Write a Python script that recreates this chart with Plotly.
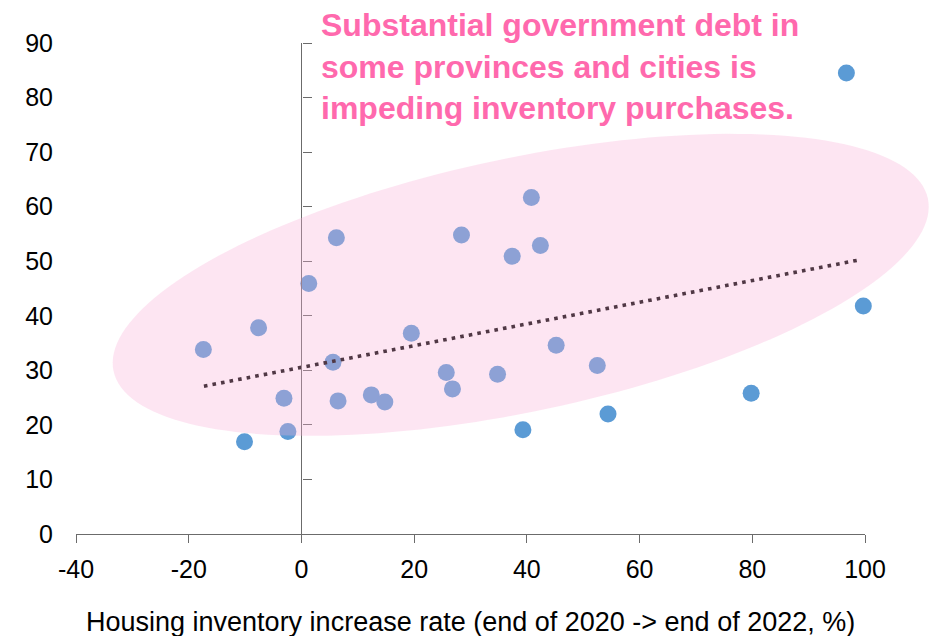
import numpy as np
import plotly.graph_objects as go

# ---- data ----
inventory_growth = [-17.4, -10.1, -7.6, -3.1, -2.4, 1.3, 6.2, 5.6, 6.5, 12.4,
                    14.8, 19.5, 25.7, 26.8, 28.4, 34.8, 37.4, 39.3, 40.8, 42.4,
                    45.2, 52.5, 54.4, 79.8, 96.7, 99.7]
debt_ratio = [33.8, 16.9, 37.8, 24.9, 18.8, 45.9, 54.3, 31.5, 24.4, 25.5,
              24.2, 36.8, 29.6, 26.6, 54.8, 29.3, 50.9, 19.1, 61.7, 52.9,
              34.6, 30.9, 22.0, 25.8, 84.5, 41.8]
trend_x = [-17.3, 99.3]
trend_y = [27.1, 50.3]
x_ticks = [-40, -20, 0, 20, 40, 60, 80, 100]
x_tick_labels = ["-40", "-20", "0", "20", "40", "60", "80", "100"]
y_ticks = [0, 10, 20, 30, 40, 50, 60, 70, 80, 90]
x_title = "Housing inventory increase rate (end of 2020 -> end of 2022, %)"
note = "Substantial government debt in<br>some provinces and cities is<br>impeding inventory purchases."

# ---- layout constants ----
W, H = 937, 636
ML, MR, MT, MB = 76, 72, 43, 102
PW, PH = W - ML - MR, H - MT - MB
FONT = "Liberation Sans, Arial, sans-serif"
AXIS_COLOR = "#6b6b6b"
x_range = [x_ticks[0], x_ticks[-1]]
y_range = [y_ticks[0], y_ticks[-1]]

fig = go.Figure()
fig.add_trace(go.Scatter(
    x=inventory_growth, y=debt_ratio, mode="markers",
    marker=dict(size=17, color="#5B9BD5", line=dict(width=0)),
    cliponaxis=False, showlegend=False, hoverinfo="x+y"))
fig.add_trace(go.Scatter(
    x=trend_x, y=trend_y, mode="lines", yaxis="y2",
    line=dict(color="#000000", width=3.6, dash="3.6px,5.1px"),
    showlegend=False, hoverinfo="skip"))

# highlight ellipse (pixel geometry -> paper coords)
cx, cy, ea, eb, th = 520.7, 284.85, 416.2, 126.7, np.deg2rad(11.96)
t = np.linspace(0, 2 * np.pi, 181)
px = cx + ea * np.cos(th) * np.cos(t) - eb * np.sin(th) * np.sin(t)
py = cy - (ea * np.sin(th) * np.cos(t) + eb * np.cos(th) * np.sin(t))
xp = (px - ML) / PW
yp = (H - MB - py) / PH
path = "M " + " L ".join(f"{a:.5f},{b:.5f}" for a, b in zip(xp, yp)) + " Z"
fig.add_shape(type="path", path=path, xref="paper", yref="paper",
              fillcolor="rgba(250,175,215,0.32)", line=dict(width=0),
              layer="above")

fig.add_annotation(text="<b>" + note + "</b>", xref="paper", yref="paper",
                   x=(319 - ML) / PW, y=(H - MB - 5) / PH,
                   xanchor="left", yanchor="top", align="left",
                   showarrow=False,
                   font=dict(family=FONT, size=32, color="#FF69AD"))

# x-axis title as a paper annotation (keeps plot area fixed)
fig.add_annotation(text=x_title, xref="paper", yref="paper",
                   x=0.5, y=-(622 - (H - MB)) / PH,
                   xanchor="center", yanchor="middle", showarrow=False,
                   font=dict(family=FONT, size=27, color="#000000"))

fig.update_layout(
    width=W, height=H, margin=dict(l=ML, r=MR, t=MT, b=MB, pad=0,
                                   autoexpand=False),
    paper_bgcolor="white", plot_bgcolor="rgba(0,0,0,0)",
    font=dict(family=FONT, color="#000000"),
    xaxis=dict(range=x_range, tickvals=x_ticks, ticktext=x_tick_labels,
               showgrid=False, zeroline=False, showline=True,
               linecolor=AXIS_COLOR, linewidth=1.3, ticks="outside",
               ticklen=8, tickcolor=AXIS_COLOR, tickwidth=1.3,
               tickfont=dict(size=25), ticklabelstandoff=5,
               automargin=False),
    yaxis=dict(range=y_range, tickvals=y_ticks, showgrid=False,
               zeroline=False, showline=False, ticks="",
               tickfont=dict(size=25), ticklabelstandoff=22,
               automargin=False),
    yaxis2=dict(range=y_range, tickvals=y_ticks, overlaying="y",
                anchor="free", side="right",
                position=(0 - x_range[0]) / (x_range[1] - x_range[0]),
                showgrid=False, zeroline=False, showline=True,
                linecolor=AXIS_COLOR, linewidth=1.3, ticks="outside",
                ticklen=9, tickcolor=AXIS_COLOR, tickwidth=1.3,
                showticklabels=False, automargin=False),
)

fig.write_html("out.html")
